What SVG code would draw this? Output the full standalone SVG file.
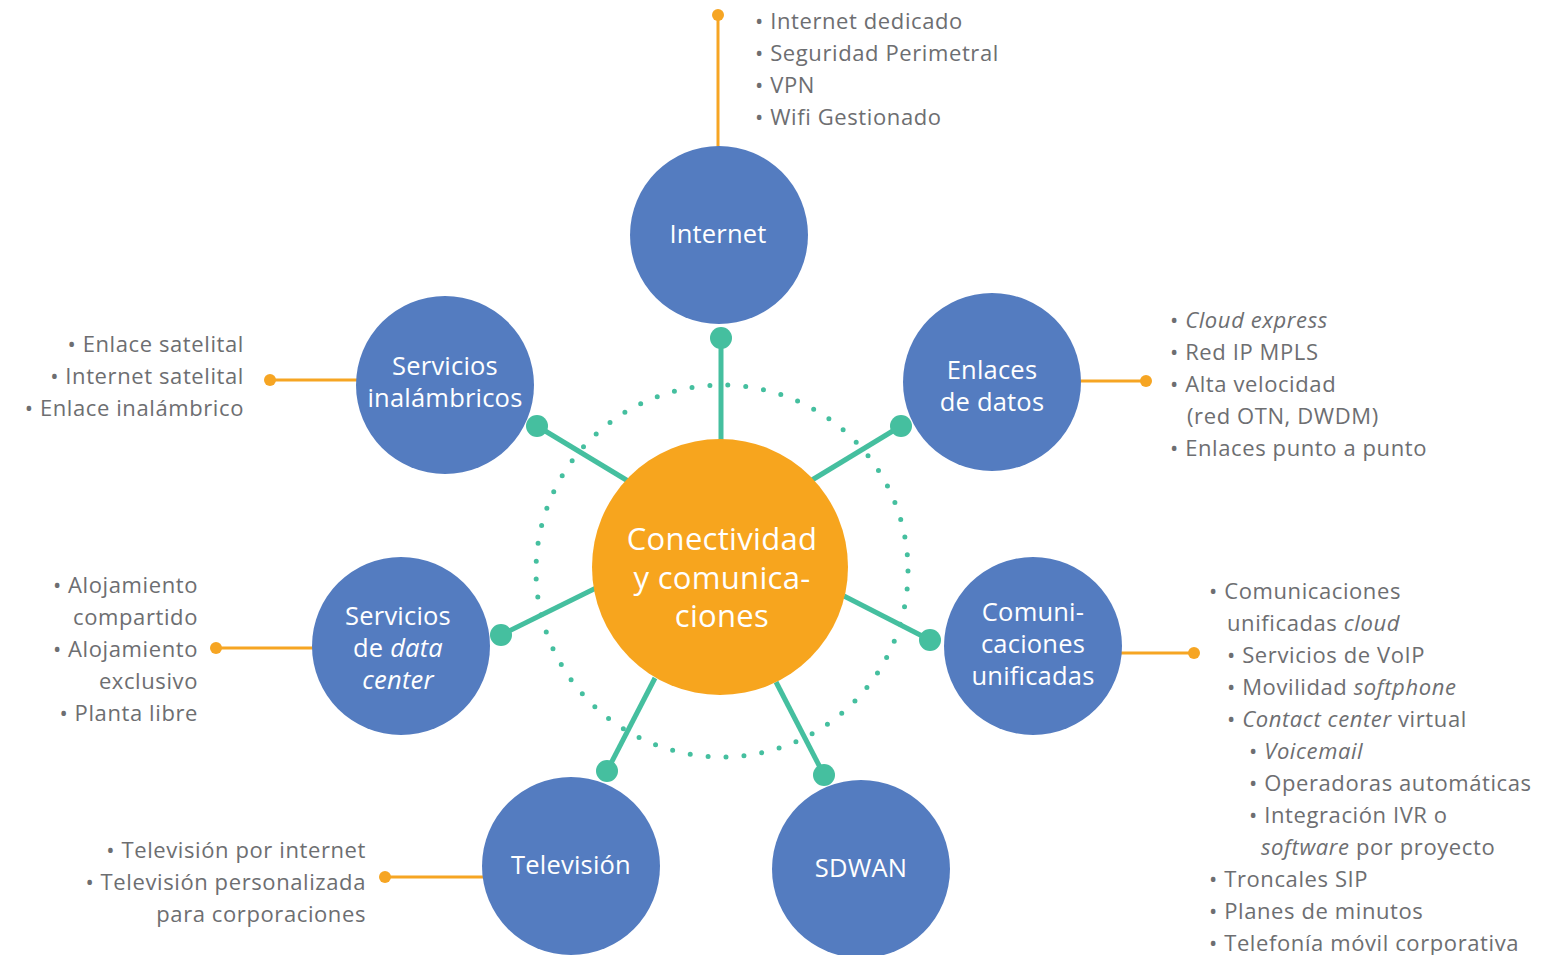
<svg xmlns="http://www.w3.org/2000/svg" width="1548" height="955" viewBox="0 0 1548 955">
<style>
.node{fill:#547cc0}
.lbl{font-family:"Open Sans","Liberation Sans",sans-serif;font-size:25.5px;fill:#fff;text-anchor:middle;letter-spacing:0.2px}
.ctr{font-family:"Open Sans","Liberation Sans",sans-serif;font-size:31px;fill:#fff;text-anchor:middle;letter-spacing:0.3px}
.lst{font-family:"Open Sans","Liberation Sans",sans-serif;font-size:22px;fill:#6d6e71;letter-spacing:0.6px}
.r{text-anchor:end}
.i{font-style:italic}
.teal{stroke:#45bf9f;stroke-width:5;fill:none}
.tdot{fill:#45bf9f}
.org{stroke:#f6a523;stroke-width:3;fill:none}
.odot{fill:#f6a523}
</style>
<rect width="1548" height="955" fill="#fff"/>
<circle cx="722" cy="571" r="186" fill="none" stroke="#45bf9f" stroke-width="5" stroke-linecap="round" stroke-dasharray="0 18"/>
<g id="connectors">
<line class="teal" x1="721" y1="445" x2="721" y2="338"/>
<circle class="tdot" cx="721" cy="338" r="11"/>
<line class="teal" x1="812" y1="480" x2="901" y2="426"/>
<circle class="tdot" cx="901" cy="426" r="11"/>
<line class="teal" x1="628" y1="481" x2="537" y2="426"/>
<circle class="tdot" cx="537" cy="426" r="11"/>
<line class="teal" x1="596" y1="588" x2="501" y2="635"/>
<circle class="tdot" cx="501" cy="635" r="11"/>
<line class="teal" x1="844" y1="596" x2="930" y2="640"/>
<circle class="tdot" cx="930" cy="640" r="11"/>
<line class="teal" x1="655" y1="678" x2="607" y2="771"/>
<circle class="tdot" cx="607" cy="771" r="11"/>
<line class="teal" x1="776" y1="682" x2="824" y2="775"/>
<circle class="tdot" cx="824" cy="775" r="11"/>
<line class="org" x1="718" y1="150" x2="718" y2="15"/>
<circle class="odot" cx="718" cy="15" r="6"/>
<line class="org" x1="1078" y1="381" x2="1146" y2="381"/>
<circle class="odot" cx="1146" cy="381" r="6"/>
<line class="org" x1="360" y1="380" x2="270" y2="380"/>
<circle class="odot" cx="270" cy="380" r="6"/>
<line class="org" x1="315" y1="648" x2="216" y2="648"/>
<circle class="odot" cx="216" cy="648" r="6"/>
<line class="org" x1="1119" y1="653" x2="1194" y2="653"/>
<circle class="odot" cx="1194" cy="653" r="6"/>
<line class="org" x1="484" y1="877" x2="385" y2="877"/>
<circle class="odot" cx="385" cy="877" r="6"/>
</g>
<g id="center">
<circle cx="720" cy="567" r="128" fill="#f7a51e"/>
<text class="ctr" x="722" y="550">Conectividad</text>
<text class="ctr" x="722" y="589">y comunica-</text>
<text class="ctr" x="722" y="627">ciones</text>
</g>
<g id="internet">
<circle class="node" cx="719" cy="235" r="89"/>
<text class="lbl" x="718" y="243">Internet</text>
</g>
<g id="enlaces">
<circle class="node" cx="992" cy="382" r="89"/>
<text class="lbl" x="992" y="379">Enlaces</text>
<text class="lbl" x="992" y="411">de datos</text>
</g>
<g id="inalambricos">
<circle class="node" cx="445" cy="385" r="89"/>
<text class="lbl" x="445" y="375">Servicios</text>
<text class="lbl" x="445" y="407">inalámbricos</text>
</g>
<g id="datacenter">
<circle class="node" cx="401" cy="646" r="89"/>
<text class="lbl" x="398" y="625">Servicios</text>
<text class="lbl" x="398" y="657">de <tspan class="i">data</tspan></text>
<text class="lbl i" x="398" y="689">center</text>
</g>
<g id="comunicaciones">
<circle class="node" cx="1033" cy="646" r="89"/>
<text class="lbl" x="1033" y="621">Comuni-</text>
<text class="lbl" x="1033" y="653">caciones</text>
<text class="lbl" x="1033" y="685">unificadas</text>
</g>
<g id="television">
<circle class="node" cx="571" cy="866" r="89"/>
<text class="lbl" x="571" y="874">Televisión</text>
</g>
<g id="sdwan">
<circle class="node" cx="861" cy="869" r="89"/>
<text class="lbl" x="861" y="877">SDWAN</text>
</g>
<g id="list-internet" class="lst">
<text x="755" y="29">• Internet dedicado</text>
<text x="755" y="61">• Seguridad Perimetral</text>
<text x="755" y="93">• VPN</text>
<text x="755" y="125">• Wifi Gestionado</text>
</g>
<g id="list-enlaces" class="lst">
<text x="1170" y="328">• <tspan class="i">Cloud express</tspan></text>
<text x="1170" y="360">• Red IP MPLS</text>
<text x="1170" y="392">• Alta velocidad</text>
<text x="1187" y="424">(red OTN, DWDM)</text>
<text x="1170" y="456">• Enlaces punto a punto</text>
</g>
<g id="list-inalambricos" class="lst r">
<text x="244" y="352">• Enlace satelital</text>
<text x="244" y="384">• Internet satelital</text>
<text x="244" y="416">• Enlace inalámbrico</text>
</g>
<g id="list-datacenter" class="lst r">
<text x="198" y="593">• Alojamiento</text>
<text x="198" y="625">compartido</text>
<text x="198" y="657">• Alojamiento</text>
<text x="198" y="689">exclusivo</text>
<text x="198" y="721">• Planta libre</text>
</g>
<g id="list-comunicaciones" class="lst">
<text x="1209" y="599">• Comunicaciones</text>
<text x="1227" y="631">unificadas <tspan class="i">cloud</tspan></text>
<text x="1227" y="663">• Servicios de VoIP</text>
<text x="1227" y="695">• Movilidad <tspan class="i">softphone</tspan></text>
<text x="1227" y="727">• <tspan class="i">Contact center</tspan> virtual</text>
<text x="1249" y="759">• <tspan class="i">Voicemail</tspan></text>
<text x="1249" y="791">• Operadoras automáticas</text>
<text x="1249" y="823">• Integración IVR o</text>
<text x="1261" y="855"><tspan class="i">software</tspan> por proyecto</text>
<text x="1209" y="887">• Troncales SIP</text>
<text x="1209" y="919">• Planes de minutos</text>
<text x="1209" y="951">• Telefonía móvil corporativa</text>
</g>
<g id="list-television" class="lst r">
<text x="366" y="858">• Televisión por internet</text>
<text x="366" y="890">• Televisión personalizada</text>
<text x="366" y="922">para corporaciones</text>
</g>
</svg>
